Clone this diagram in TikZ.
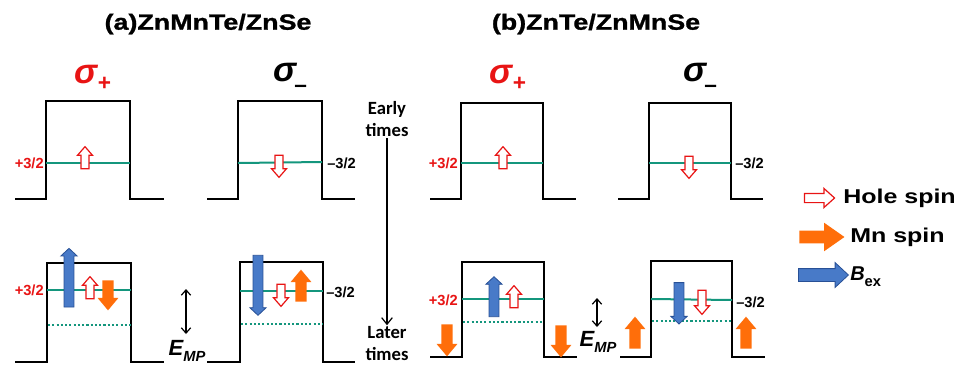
\documentclass[tikz,border=0pt]{standalone}
\usepackage{fontspec}
\setmainfont{Liberation Sans}
\newfontfamily\widefont[FakeStretch=1.25]{Liberation Sans}
\newfontfamily\heavyfont[FakeStretch=1.22,FakeBold=1.2]{Liberation Sans}
\newfontfamily\calfont{Carlito}
\usetikzlibrary{shapes.arrows,arrows.meta}
\definecolor{hred}{RGB}{232,20,20}
\definecolor{lteal}{RGB}{20,150,125}
\definecolor{mnor}{RGB}{255,110,10}
\definecolor{bexb}{RGB}{72,122,200}
\definecolor{bexd}{RGB}{40,80,150}
\begin{document}
\begin{tikzpicture}[x=0.75pt,y=-0.75pt,
  well/.style={line width=1.7pt},
  lev/.style={draw=lteal,line width=1.5pt},
  dlev/.style={draw=lteal,line width=1.9pt,dash pattern=on 1.6pt off 1.6pt},
  harr/.style={single arrow,draw=hred,fill=white,line width=0.9pt,inner sep=0pt,inner ysep=2.6pt,
     single arrow head extend=2.6pt,single arrow tip angle=82,minimum height=16.5pt,minimum width=0pt},
  barr/.style={single arrow,draw=bexd,fill=bexb,line width=0.6pt,inner sep=0pt,inner ysep=3.4pt,
     single arrow head extend=2.4pt,single arrow tip angle=94,minimum width=0pt},
  oarr/.style={single arrow,fill=mnor,inner sep=0pt,inner ysep=4pt,
     single arrow head extend=3.6pt,single arrow tip angle=80,minimum height=24pt,minimum width=0pt},
  up/.style={rotate=90},
  dn/.style={rotate=-90},
  plab/.style={text=hred,font=\bfseries\fontsize{11pt}{11pt}\selectfont,inner sep=0pt},
  mlab/.style={text=black,font=\bfseries\fontsize{11pt}{11pt}\selectfont,inner sep=0pt},
  ttl/.style={font=\heavyfont\bfseries\fontsize{16.5pt}{16.5pt}\selectfont,inner sep=0pt},
  sig/.style={font=\bfseries\itshape\fontsize{26pt}{26pt}\selectfont,inner sep=0pt},
  tim/.style={font=\calfont\bfseries\fontsize{14pt}{16.5pt}\selectfont,align=center,inner sep=1pt},
  emp/.style={font=\bfseries\itshape\fontsize{16.5pt}{16.5pt}\selectfont,inner sep=0pt},
  leg/.style={font=\widefont\bfseries\fontsize{15pt}{15pt}\selectfont,inner sep=0pt,anchor=west},
  dbl/.style={{Straight Barb[length=4pt,width=7pt]}-{Straight Barb[length=4pt,width=7pt]},line width=0.9pt}
]
\useasboundingbox (0,0) rectangle (961,365);

% titles
\node[ttl] (ta) at (208,24) {(a)ZnMnTe/ZnSe};
\node[ttl] (tb) at (596,24) {(b)ZnTe/ZnMnSe};

% sigma labels
\node[sig,text=hred] (s1) at (93,78) {σ\raisebox{-0.22em}{\upshape\fontsize{17pt}{17pt}\selectfont +}};
\node[sig] (s2) at (290,78) {σ\kern-0.05em\raisebox{-0.3em}{\upshape\fontsize{17pt}{17pt}\selectfont –}};
\node[sig,text=hred] (s3) at (508,78) {σ\raisebox{-0.22em}{\upshape\fontsize{17pt}{17pt}\selectfont +}};
\node[sig] (s4) at (700,78) {σ\kern-0.05em\raisebox{-0.3em}{\upshape\fontsize{17pt}{17pt}\selectfont –}};

% ---- top wells
\draw[well] (15,199) -- (46,199) -- (46,101) -- (130,101) -- (130,199) -- (164,199);
\draw[well] (207,199) -- (238,199) -- (238,101) -- (322,101) -- (322,199) -- (355,199);
\draw[well] (430,199) -- (461,199) -- (461,103) -- (543,103) -- (543,199) -- (576,199);
\draw[well] (618,199) -- (649,199) -- (649,103) -- (731,103) -- (731,199) -- (763,199);
\draw[lev] (46,163) -- (130,163);
\draw[lev] (238,163) -- (322,162);
\draw[lev] (461,163) -- (543,163);
\draw[lev] (649,163) -- (731,163);

% ---- bottom wells
\draw[well] (15,362) -- (47,362) -- (47,263) -- (131,263) -- (131,362) -- (164,362);
\draw[well] (207,362) -- (240,362) -- (240,262) -- (323,262) -- (323,362) -- (355,362);
\draw[well] (430,357) -- (462,357) -- (462,262) -- (544,262) -- (544,357) -- (577,357);
\draw[well] (620,357) -- (651,357) -- (651,261) -- (732,261) -- (732,357) -- (765,357);
\draw[lev] (47,290) -- (131,290);
\draw[lev] (240,291) -- (323,291);
\draw[lev] (462,299) -- (544,299);
\draw[lev] (651,299) -- (732,300);
\draw[dlev] (48,325) -- (131,325);
\draw[dlev] (241,324) -- (323,324);
\draw[dlev] (463,322) -- (544,322);
\draw[dlev] (652,321) -- (732,321);

% level labels
\node[plab,anchor=east] (p1) at (44,163) {+3/2};
\node[plab,anchor=east] (p2) at (44,290) {+3/2};
\node[plab,anchor=east] (p3) at (458,163) {+3/2};
\node[plab,anchor=east] (p4) at (458,300) {+3/2};
\node[mlab,anchor=west] (m1) at (327,163) {–3/2};
\node[mlab,anchor=west] (m2) at (326,292) {–3/2};
\node[mlab,anchor=west] (m3) at (735,163) {–3/2};
\node[mlab,anchor=west] (m4) at (736,302) {–3/2};

% hole spin arrows
\node[harr,up] (h1) at (85,160) {};
\node[harr,dn] (h2) at (279,164) {};
\node[harr,up] (h3) at (503,160) {};
\node[harr,dn] (h4) at (689,165) {};
\node[harr,up] (h5) at (90,290) {};
\node[harr,dn] (h6) at (281,293) {};
\node[harr,up] (h7) at (514,299) {};
\node[harr,dn,minimum height=18pt] (h8) at (702,300) {};

% exchange field arrows
\node[barr,up,minimum height=44pt] (b1) at (69,280) {};
\node[barr,dn,minimum height=45pt] (b2) at (258,283) {};
\node[barr,up,minimum height=30pt] (b3) at (494,299) {};
\node[barr,dn,minimum height=31pt] (b4) at (679,301) {};

% Mn spin arrows
\node[oarr,dn,minimum height=22.5pt] (o1) at (108,292) {};
\node[oarr,up] (o2) at (301,289) {};
\node[oarr,dn] (o3) at (447,337) {};
\node[oarr,dn] (o4) at (561,338) {};
\node[oarr,up] (o5) at (635,336) {};
\node[oarr,up] (o6) at (746,336) {};

% E_MP
\coordinate (ea1) at (186,289);
\coordinate (ea2) at (186,334);
\draw[dbl] (ea1) -- (ea2);
\node[emp] (e1) at (187,351) {E\raisebox{-0.3em}{\fontsize{11pt}{11pt}\selectfont MP}};
\coordinate (eb1) at (597,298);
\coordinate (eb2) at (597,327);
\draw[dbl] (eb1) -- (eb2);
\node[emp] (e2) at (598,342) {E\raisebox{-0.3em}{\fontsize{11pt}{11pt}\selectfont MP}};

% time arrow
\node[tim] (early) at (387,119) {Early\\times};
\node[tim] (later) at (387,344) {Later\\times};
\draw[line width=0.9pt,-{Straight Barb[length=5pt,width=8pt]}] (early.south) -- (later.north);

% legend
\node[harr,minimum height=22.5pt,inner ysep=3pt,single arrow head extend=3.75pt,single arrow tip angle=84] (lh) at (817,198) {};
\node[leg] (lht) at (843,198) {Hole spin};
\node[oarr,minimum height=33.75pt,inner ysep=4.5pt,single arrow head extend=6pt,single arrow tip angle=70] (lm) at (817.5,237) {};
\node[leg] (lmt) at (850,237) {Mn spin};
\node[barr,minimum height=37.5pt,inner ysep=4.5pt,single arrow head extend=4.5pt,single arrow tip angle=86] (lb) at (820,275) {};
\node[font=\bfseries\itshape\fontsize{15pt}{15pt}\selectfont,inner sep=0pt,anchor=west] (lbt) at (850,277) {B\raisebox{-0.3em}{\upshape\fontsize{11pt}{11pt}\selectfont ex}};
\end{tikzpicture}
\end{document}
